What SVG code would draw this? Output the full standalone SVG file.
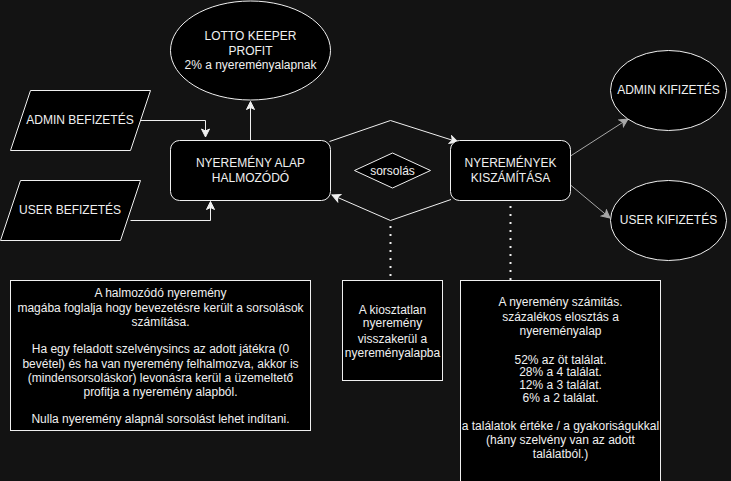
<svg xmlns="http://www.w3.org/2000/svg" width="731" height="481" viewBox="0 0 731 481">
<style>
.bg{fill:#131313}
.node{fill:#000;stroke:#f0f0f0;stroke-width:1}
.t{font-family:"Liberation Sans",Arial,Helvetica,sans-serif;font-size:12px;fill:#f0f0f0;text-anchor:middle}
.edge{fill:none;stroke:#f0f0f0;stroke-width:1}
.gray{fill:none;stroke:#a8a8a8;stroke-width:1}
.dot{fill:none;stroke:#f0f0f0;stroke-width:2;stroke-dasharray:2 6}
</style>
<defs>
<marker id="aw" viewBox="-9 -5 10 10" refX="0" refY="0" markerWidth="10" markerHeight="10" markerUnits="userSpaceOnUse" orient="auto">
<path d="M0,0 L-8,-4 L-6,0 L-8,4 Z" fill="#f0f0f0" stroke="#f0f0f0" stroke-width="1"/>
</marker>
<marker id="ag" viewBox="-9 -5 10 10" refX="0" refY="0" markerWidth="10" markerHeight="10" markerUnits="userSpaceOnUse" orient="auto">
<path d="M0,0 L-8,-4 L-6,0 L-8,4 Z" fill="#a8a8a8" stroke="#a8a8a8" stroke-width="1"/>
</marker>
</defs>
<rect class="bg" x="0" y="0" width="731" height="481"/>

<g id="connectors">
<path class="edge" d="M250.5,140.5 L250.5,101.5" marker-end="url(#aw)"/>
<path class="edge" d="M140.5,120.5 L205.5,120.5 L205.5,137" marker-end="url(#aw)"/>
<path class="edge" d="M130.5,220.5 L210.5,220.5 L210.5,201.5" marker-end="url(#aw)"/>
<path class="edge" d="M329.5,141.5 L390.5,120.5 L458,142" marker-end="url(#aw)"/>
<path class="edge" d="M451,199.5 L390.5,220.5 L332,195" marker-end="url(#aw)"/>
<path class="gray" d="M570.5,156 L628,119" marker-end="url(#ag)"/>
<path class="gray" d="M570.5,185 L610,218" marker-end="url(#ag)"/>
<path class="dot" d="M390.5,226 L390.5,280"/>
<path class="dot" d="M510.5,206 L510.5,280"/>
</g>

<g id="lotto-keeper-profit">
<ellipse class="node" cx="250.5" cy="50.5" rx="80" ry="49.5"/>
<text class="t" x="250.5" y="40">LOTTO KEEPER</text>
<text class="t" x="250.5" y="54.5">PROFIT</text>
<text class="t" x="250.5" y="69">2% a nyereményalapnak</text>
</g>

<g id="admin-befizetes">
<polygon class="node" points="30.5,90.5 150.5,90.5 130.5,150.5 10.5,150.5"/>
<text class="t" x="80" y="123.5">ADMIN BEFIZETÉS</text>
</g>

<g id="user-befizetes">
<polygon class="node" points="20.5,180.5 140.5,180.5 120.5,240.5 0.5,240.5"/>
<text class="t" x="70" y="213.5">USER BEFIZETÉS</text>
</g>

<g id="nyeremeny-alap">
<rect class="node" x="170.5" y="140.5" width="160" height="60" rx="9" ry="9"/>
<text class="t" x="250.5" y="167">NYEREMÉNY ALAP</text>
<text class="t" x="250.5" y="181.5">HALMOZÓDÓ</text>
</g>

<g id="sorsolas">
<polygon class="node" points="392.5,153 430.5,170.5 392.5,188 354.5,170.5"/>
<text class="t" x="392.5" y="174.5">sorsolás</text>
</g>

<g id="nyeremenyek-kiszamitasa">
<rect class="node" x="450.5" y="140.5" width="120" height="60" rx="9" ry="9"/>
<text class="t" x="510.5" y="167">NYEREMÉNYEK</text>
<text class="t" x="510.5" y="181.5">KISZÁMÍTÁSA</text>
</g>

<g id="admin-kifizetes">
<ellipse class="node" cx="668.5" cy="90.5" rx="58" ry="40"/>
<text class="t" x="668.5" y="93.5">ADMIN KIFIZETÉS</text>
</g>

<g id="user-kifizetes">
<ellipse class="node" cx="668.5" cy="220.5" rx="58" ry="40"/>
<text class="t" x="668.5" y="223.5">USER KIFIZETÉS</text>
</g>

<g id="halmozodo-leiras">
<rect class="node" x="10.5" y="280.5" width="300" height="150"/>
<text class="t" x="160.5" y="297">A halmozódó nyeremény</text>
<text class="t" x="160.5" y="311.5">magába foglalja hogy bevezetésre került a sorsolások</text>
<text class="t" x="160.5" y="326">számítása.</text>
<text class="t" x="160.5" y="353">Ha egy feladott szelvénysincs az adott játékra (0</text>
<text class="t" x="160.5" y="367.5">bevétel) és ha van nyeremény felhalmozva, akkor is</text>
<text class="t" x="160.5" y="381.5">(mindensorsoláskor) levonásra kerül a üzemeltető</text>
<text class="t" x="160.5" y="395.5">profitja a nyeremény alapból.</text>
<text class="t" x="160.5" y="422.5">Nulla nyeremény alapnál sorsolást lehet indítani.</text>
</g>

<g id="kiosztatlan">
<rect class="node" x="342.5" y="280.5" width="100" height="100"/>
<text class="t" x="392.5" y="313.5">A kiosztatlan</text>
<text class="t" x="392.5" y="327">nyeremény</text>
<text class="t" x="392.5" y="342.5">visszakerül a</text>
<text class="t" x="392.5" y="357">nyereményalapba</text>
</g>

<g id="nyeremeny-szamitas">
<rect class="node" x="460.5" y="280.5" width="200" height="210"/>
<text class="t" x="560.5" y="306">A nyeremény számitás.</text>
<text class="t" x="560.5" y="321">százalékos elosztás a</text>
<text class="t" x="560.5" y="335">nyereményalap</text>
<text class="t" x="560.5" y="363.5">52% az öt találat.</text>
<text class="t" x="560.5" y="376">28% a 4 találat.</text>
<text class="t" x="560.5" y="388.5">12% a 3 találat.</text>
<text class="t" x="560.5" y="401.5">6% a 2 találat.</text>
<text class="t" x="560.5" y="429.5">a találatok értéke / a gyakoriságukkal</text>
<text class="t" x="560.5" y="443.5">(hány szelvény van az adott</text>
<text class="t" x="560.5" y="457.5">találatból.)</text>
</g>
</svg>
